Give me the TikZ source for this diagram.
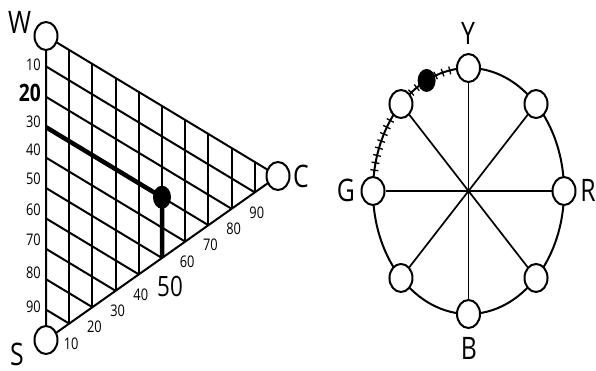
\documentclass[tikz,border=0pt]{standalone}
\usepackage{fontspec}
\setmainfont{Open Sans}
\newfontfamily\narrowfont[FakeStretch=0.8]{Open Sans}
\usetikzlibrary{calc,shapes.geometric,decorations.markings}

\begin{document}
\begin{tikzpicture}[x=1pt,y=1pt,
  vtx/.style={ellipse,draw,line width=2pt,fill=white,minimum width=23pt,minimum height=28pt,inner sep=0pt},
  dotnode/.style={ellipse,fill=black,minimum width=18pt,minimum height=23pt,inner sep=0pt},
  letter/.style={font=\narrowfont\fontsize{31}{31}\selectfont,inner sep=0pt},
  num/.style={font=\narrowfont\fontsize{16}{16}\selectfont,inner sep=0pt},
  bignum/.style={font=\narrowfont\fontsize{28}{28}\selectfont,inner sep=0pt},
  boldnum/.style={font=\narrowfont\bfseries\fontsize{24}{24}\selectfont,inner sep=0pt},
  gridline/.style={line width=2pt},
  thickline/.style={line width=4.5pt,line join=round},
  spoke/.style={line width=1.7pt},
  rim/.style={line width=2pt},
  erad/.style={x radius=95.5,y radius=123},
  ticked/.style={postaction={decorate},decoration={markings,mark=between positions 0.05 and 0.95 step 7.5pt with {\draw[line width=1.3pt] (0,-4pt)--(0,4pt);}}}
]
\useasboundingbox (0,0) rectangle (596,371);
\fill[white] (0,0) rectangle (596,371);

% ---------- left triangle ----------
\coordinate (W) at (46,335);
\coordinate (S) at (46,31);
\coordinate (C) at (278,195);

\foreach \i in {1,...,9} {
  \draw[gridline] ($(W)!\i*0.1!(C)$) -- ($(S)!\i*0.1!(C)$);
  \draw[gridline] ($(W)!\i*0.1!(S)$) -- ($(C)!\i*0.1!(S)$);
}
\draw[gridline] (W) -- (C) -- (S) -- cycle;

\coordinate (L30) at ($(W)!0.3!(S)$);
\coordinate (B50) at ($(S)!0.5!(C)$);
\coordinate (P) at ($(L30)+(116,-70)$);
\draw[thickline] (L30) -- (P) -- (B50);
\node[dotnode] (dotL) at (P) {};

\node[vtx] (nW) at (W) {};
\node[vtx] (nS) at (S) {};
\node[vtx] (nC) at (C) {};

\node[letter] (tW) at (19.5,348.5) {W};
\node[letter] (tC) at (301,195) {C};
\node[letter] (tS) at (17,17) {S};

\foreach \y/\lab in {306/10,249/30,221/40,192/50,161/60,131/70,98/80,64/90}
  \node[num,anchor=east] (l\lab) at (41,\y) {\lab};
\node[boldnum,anchor=east] (l20) at (41,278) {20};

\foreach \i/\lab in {1/10,2/20,3/30,4/40,6/60,7/70,8/80,9/90}
  \node[num] (b\lab) at ($(S)!\i*0.1!(C)+(2,-20)$) {\lab};
\node[bignum] (b50) at (170,85) {50};

% ---------- right wheel ----------
\coordinate (O) at (468.5,180);
\foreach \nm/\a in {Y/90,TR/45,R/0,BR/-45,B/-90,BL/-135,G/180,TL/135}
  \path (O) ++(\a:95.5 and 123) coordinate (p\nm);

\draw[rim] (pY) arc[start angle=90,end angle=-90,erad];
\draw[rim] (pB) arc[start angle=-90,end angle=-180,erad];
\draw[rim,ticked] (pY) arc[start angle=90,end angle=135,erad];
\draw[rim,ticked] (pTL) arc[start angle=135,end angle=180,erad];

\foreach \nm in {Y,TR,R,BR,B,BL,G,TL}
  \node[vtx] (\nm) at (p\nm) {};
\foreach \nm in {Y,TR,R,BR,B,BL,G,TL}
  \draw[spoke] (O) -- (\nm);

\path (O) ++(116:95.5 and 123) node[dotnode] (dotR) {};

\node[letter] (tY) at (468,338) {Y};
\node[letter] (tG) at (346,181) {G};
\node[letter] (tR) at (588,181) {R};
\node[letter] (tB) at (469,23) {B};
\end{tikzpicture}
\end{document}
